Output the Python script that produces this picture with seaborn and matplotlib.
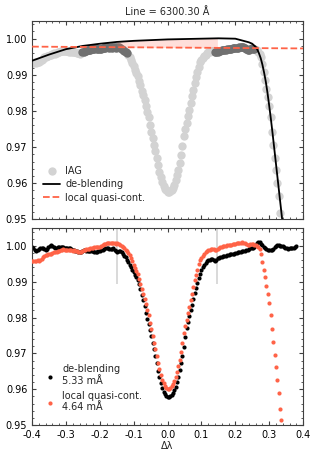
import numpy as np
import pandas as pd
import matplotlib
matplotlib.use('Agg')
import matplotlib.pyplot as plt
import seaborn as sns
from matplotlib.ticker import MultipleLocator, FormatStrFormatter

# IAG atlas sampling around the line centre (4 mA steps from -0.4 A)
start = -0.400
step = 0.004

# IAG flux (top panel)
iag = [
    0.9934, 0.9933, 0.9935, 0.9934, 0.9936, 0.9935, 0.9937, 0.9940, 0.9944, 0.9948,
    0.9950, 0.9952, 0.9953, 0.9955, 0.9954, 0.9957, 0.9959, 0.9958, 0.9960, 0.9962,
    0.9963, 0.9965, 0.9966, 0.9967, 0.9966, 0.9965, 0.9966, 0.9964, 0.9965, 0.9964,
    0.9963, 0.9964, 0.9962, 0.9961, 0.9960, 0.9958, 0.9959, 0.9962, 0.9964, 0.9966,
    0.9967, 0.9968, 0.9968, 0.9970, 0.9971, 0.9971, 0.9972, 0.9973, 0.9972, 0.9972,
    0.9971, 0.9972, 0.9974, 0.9975, 0.9975, 0.9976, 0.9976, 0.9975, 0.9976, 0.9975,
    0.9976, 0.9976, 0.9975, 0.9977, 0.9976, 0.9975, 0.9972, 0.9970, 0.9967, 0.9963,
    0.9959, 0.9955, 0.9950, 0.9942, 0.9934, 0.9924, 0.9914, 0.9906, 0.9897, 0.9884,
    0.9871, 0.9855, 0.9843, 0.9829, 0.9814, 0.9798, 0.9783, 0.9762, 0.9743, 0.9724,
    0.9706, 0.9688, 0.9669, 0.9650, 0.9632, 0.9616, 0.9603, 0.9592, 0.9585, 0.9580,
    0.9575, 0.9575, 0.9578, 0.9582, 0.9588, 0.9596, 0.9608, 0.9622, 0.9638, 0.9656,
    0.9677, 0.9702, 0.9731, 0.9750, 0.9768, 0.9786, 0.9804, 0.9823, 0.9841, 0.9859,
    0.9878, 0.9894, 0.9908, 0.9923, 0.9935, 0.9941, 0.9947, 0.9952, 0.9956, 0.9960,
    0.9962, 0.9964, 0.9965, 0.9966, 0.9965, 0.9964, 0.9963, 0.9964, 0.9965, 0.9967,
    0.9968, 0.9968, 0.9969, 0.9970, 0.9971, 0.9971, 0.9972, 0.9972, 0.9973, 0.9974,
    0.9973, 0.9974, 0.9975, 0.9976, 0.9976, 0.9977, 0.9976, 0.9974, 0.9972, 0.9970,
    0.9970, 0.9972, 0.9973, 0.9972, 0.9971, 0.9970, 0.9968, 0.9964, 0.9958, 0.9948,
    0.9929, 0.9908, 0.9886, 0.9861, 0.9840, 0.9814, 0.9782, 0.9741, 0.9707, 0.9669,
    0.9637, 0.9601, 0.9564, 0.9519, 0.9487,
]

# IAG normalised by the local quasi-continuum (bottom panel, red)
norm_local = [
    0.9958, 0.9957, 0.9959, 0.9958, 0.9960, 0.9959, 0.9961, 0.9964, 0.9968, 0.9972,
    0.9974, 0.9976, 0.9977, 0.9979, 0.9978, 0.9981, 0.9983, 0.9982, 0.9984, 0.9986,
    0.9987, 0.9989, 0.9990, 0.9991, 0.9990, 0.9989, 0.9990, 0.9988, 0.9989, 0.9988,
    0.9987, 0.9988, 0.9986, 0.9985, 0.9984, 0.9982, 0.9983, 0.9986, 0.9988, 0.9990,
    0.9991, 0.9992, 0.9992, 0.9994, 0.9995, 0.9995, 0.9996, 0.9997, 0.9996, 0.9998,
    0.9997, 1.0000, 1.0003, 1.0005, 1.0006, 1.0008, 1.0009, 1.0008, 1.0009, 1.0007,
    1.0008, 1.0007, 1.0006, 1.0007, 1.0005, 1.0004, 1.0000, 0.9996, 0.9993, 0.9989,
    0.9985, 0.9980, 0.9974, 0.9966, 0.9958, 0.9948, 0.9938, 0.9930, 0.9921, 0.9908,
    0.9895, 0.9879, 0.9867, 0.9853, 0.9838, 0.9822, 0.9807, 0.9786, 0.9767, 0.9748,
    0.9730, 0.9712, 0.9693, 0.9674, 0.9656, 0.9640, 0.9627, 0.9616, 0.9609, 0.9604,
    0.9601, 0.9601, 0.9604, 0.9608, 0.9614, 0.9622, 0.9634, 0.9648, 0.9664, 0.9682,
    0.9703, 0.9728, 0.9757, 0.9776, 0.9794, 0.9812, 0.9830, 0.9849, 0.9867, 0.9885,
    0.9904, 0.9920, 0.9934, 0.9949, 0.9961, 0.9967, 0.9973, 0.9978, 0.9982, 0.9986,
    0.9988, 0.9990, 0.9991, 0.9992, 0.9991, 0.9990, 0.9989, 0.9991, 0.9994, 0.9997,
    0.9998, 0.9999, 1.0000, 1.0001, 1.0002, 1.0003, 1.0004, 1.0004, 1.0005, 1.0006,
    1.0006, 1.0007, 1.0008, 1.0009, 1.0009, 1.0010, 1.0009, 1.0007, 1.0005, 1.0003,
    1.0003, 1.0005, 1.0006, 1.0005, 1.0004, 1.0003, 1.0001, 0.9997, 0.9991, 0.9979,
    0.9955, 0.9934, 0.9912, 0.9887, 0.9866, 0.9840, 0.9808, 0.9767, 0.9733, 0.9695,
    0.9663, 0.9627, 0.9590, 0.9545, 0.9513,
]

# IAG normalised by the de-blending fit (bottom panel, black)
norm_deblend = [
    0.9998, 0.9994, 0.9990, 0.9986, 0.9988, 0.9991, 0.9994, 0.9995, 0.9993, 0.9991,
    0.9990, 0.9992, 0.9996, 1.0001, 1.0004, 1.0001, 0.9998, 0.9995, 0.9995, 0.9997,
    0.9996, 0.9998, 0.9997, 0.9996, 0.9995, 0.9995, 0.9994, 0.9993, 0.9993, 0.9992,
    0.9990, 0.9989, 0.9987, 0.9986, 0.9984, 0.9982, 0.9984, 0.9986, 0.9988, 0.9988,
    0.9987, 0.9986, 0.9986, 0.9986, 0.9985, 0.9985, 0.9984, 0.9984, 0.9984, 0.9985,
    0.9986, 0.9988, 0.9990, 0.9992, 0.9994, 0.9995, 0.9993, 0.9991, 0.9991, 0.9992,
    0.9993, 0.9990, 0.9986, 0.9984, 0.9985, 0.9986, 0.9982, 0.9977, 0.9973, 0.9968,
    0.9961, 0.9954, 0.9947, 0.9940, 0.9932, 0.9926, 0.9920, 0.9914, 0.9906, 0.9895,
    0.9880, 0.9864, 0.9848, 0.9832, 0.9814, 0.9797, 0.9781, 0.9765, 0.9748, 0.9730,
    0.9711, 0.9692, 0.9672, 0.9652, 0.9634, 0.9617, 0.9603, 0.9593, 0.9586, 0.9581,
    0.9578, 0.9578, 0.9580, 0.9583, 0.9589, 0.9597, 0.9607, 0.9620, 0.9635, 0.9653,
    0.9672, 0.9694, 0.9718, 0.9745, 0.9770, 0.9788, 0.9804, 0.9820, 0.9836, 0.9852,
    0.9868, 0.9884, 0.9898, 0.9911, 0.9922, 0.9932, 0.9940, 0.9946, 0.9952, 0.9957,
    0.9960, 0.9962, 0.9963, 0.9963, 0.9961, 0.9959, 0.9962, 0.9966, 0.9966, 0.9968,
    0.9970, 0.9971, 0.9972, 0.9973, 0.9975, 0.9976, 0.9977, 0.9978, 0.9978, 0.9979,
    0.9980, 0.9981, 0.9982, 0.9983, 0.9984, 0.9985, 0.9986, 0.9986, 0.9988, 0.9990,
    0.9992, 0.9993, 0.9994, 0.9993, 0.9996, 1.0003, 1.0009, 1.0012, 1.0010, 1.0006,
    1.0002, 0.9998, 0.9994, 0.9991, 0.9990, 0.9990, 0.9989, 0.9988, 0.9992, 0.9997,
    1.0001, 1.0003, 1.0002, 1.0000, 0.9999, 1.0000, 0.9998, 0.9995, 0.9993, 0.9992,
    0.9993, 0.9994, 0.9993, 0.9995, 0.9998, 1.0000,
]

# de-blending fit (black line)
deblend_x = [-0.40, -0.35, -0.30, -0.25, -0.20, -0.15, -0.10, -0.05, 0.00, 0.05,
             0.10, 0.15, 0.20, 0.22, 0.24, 0.25, 0.26, 0.265, 0.27, 0.275,
             0.28, 0.285, 0.29, 0.295, 0.30, 0.305, 0.31, 0.32, 0.33, 0.34]
deblend_y = [0.9939, 0.9956, 0.9971, 0.9980, 0.9986, 0.9991, 0.9994, 0.9996, 0.9998, 0.9999,
             1.0000, 1.0001, 1.0000, 0.9995, 0.9990, 0.9986, 0.9977, 0.9970, 0.9959, 0.9946,
             0.9928, 0.9906, 0.9881, 0.9850, 0.9815, 0.9778, 0.9738, 0.9654, 0.9570, 0.9486]

# local quasi-continuum (straight line)
qc_x = [-0.40, 0.40]
qc_y = [0.9978, 0.9973]

cont_windows = [(-0.254, -0.120), (0.140, 0.256)]
int_limits = [-0.150, 0.147]
title = 'Line = 6300.30 Å'
ew_deblend = '5.33 mÅ'
ew_local = '4.64 mÅ'

dlam_all = np.round(start + step * np.arange(len(norm_deblend)), 4)
dlam = dlam_all[:len(iag)]
iag = np.array(iag)

in_win = np.zeros(len(dlam), dtype=bool)
for lo, hi in cont_windows:
    in_win |= (dlam >= lo) & (dlam <= hi)

sns.set_style('ticks')
plt.rcParams.update({
    'font.family': ['DejaVu Sans'],
    'font.size': 7,
    'axes.edgecolor': '0.25',
    'axes.linewidth': 0.8,
    'xtick.direction': 'in',
    'ytick.direction': 'in',
    'xtick.top': True,
    'ytick.right': True,
    'xtick.minor.visible': True,
    'ytick.minor.visible': True,
    'xtick.color': '0.25',
    'ytick.color': '0.25',
    'xtick.labelcolor': 'black',
    'ytick.labelcolor': 'black',
    'xtick.major.size': 3,
    'ytick.major.size': 3,
    'xtick.minor.size': 1.6,
    'ytick.minor.size': 1.6,
    'xtick.labelsize': 7,
    'ytick.labelsize': 7,
})

fig = plt.figure(figsize=(3.18, 4.58), dpi=100)
ax1 = fig.add_axes([0.101, 0.521, 0.852, 0.434])
ax2 = fig.add_axes([0.101, 0.072, 0.852, 0.430])

# top panel
sns.scatterplot(x=dlam, y=iag, ax=ax1, color='lightgray', s=36, linewidth=0,
                label='IAG', zorder=1)
sns.scatterplot(x=dlam[in_win], y=iag[in_win], ax=ax1, color='#707070', s=36,
                linewidth=0, zorder=2)
sns.lineplot(x=deblend_x, y=deblend_y, ax=ax1, color='black', lw=1.3,
             label='de-blending', zorder=4, sort=False)
sns.lineplot(x=qc_x, y=qc_y, ax=ax1, color='tomato', lw=1.3, linestyle='--',
             label='local quasi-cont.', zorder=5, sort=False)
fx = [int_limits[0]] + [x for x in deblend_x if int_limits[0] < x < int_limits[1]] + [int_limits[1]]
fy_top = np.interp(fx, deblend_x, deblend_y)
fy_bot = np.interp(fx, qc_x, qc_y)
ax1.fill_between(fx, fy_bot, fy_top, color='tomato', alpha=0.2, lw=0, zorder=3)
ax1.set_title(title, fontsize=7, pad=4)
ax1.legend(loc='lower left', bbox_to_anchor=(0.007, 0.04), frameon=False,
           fontsize=7, handlelength=1.8, handletextpad=0.5, labelspacing=0.35)

# bottom panel
ax2.vlines(int_limits, 0.9895, 1.005, color='lightgray', lw=1.2, zorder=1)
sns.scatterplot(x=dlam_all, y=norm_deblend, ax=ax2, color='black', s=9,
                linewidth=0, label='de-blending\n' + ew_deblend, zorder=2)
sns.scatterplot(x=dlam, y=norm_local, ax=ax2, color='tomato', s=9,
                linewidth=0, label='local quasi-cont.\n' + ew_local, zorder=3)
ax2.legend(loc='lower left', bbox_to_anchor=(-0.004, 0.02), frameon=False,
           fontsize=7, handletextpad=0.3, borderaxespad=0.5)
ax2.set_xlabel('Δλ', fontsize=7, labelpad=1)

for ax in (ax1, ax2):
    ax.set_xlim(-0.4, 0.4)
    ax.set_ylim(0.95, 1.005)
    ax.set_ylabel('')
    ax.xaxis.set_major_locator(MultipleLocator(0.1))
    ax.xaxis.set_minor_locator(MultipleLocator(0.02))
    ax.yaxis.set_major_locator(MultipleLocator(0.01))
    ax.yaxis.set_minor_locator(MultipleLocator(0.002))
    ax.yaxis.set_major_formatter(FormatStrFormatter('%.2f'))
ax1.tick_params(labelbottom=False)
ax2.xaxis.set_major_formatter(FormatStrFormatter('%.1f'))

fig.savefig('out.png', dpi=100)
